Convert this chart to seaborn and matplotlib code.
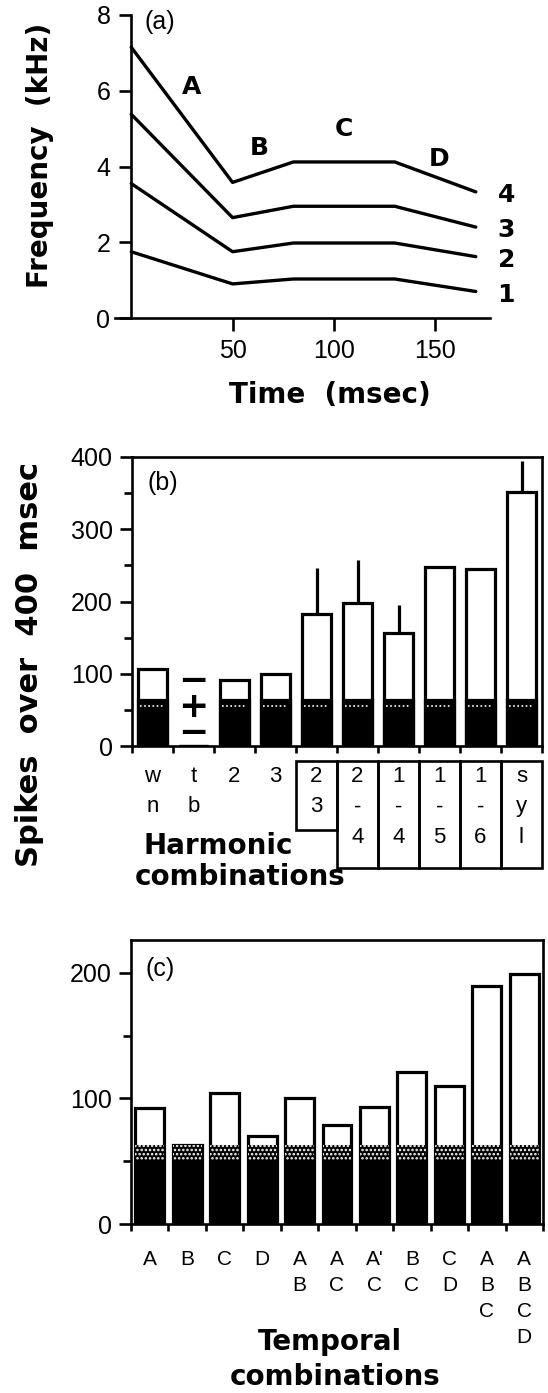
import numpy as np
import pandas as pd
import seaborn as sns
import matplotlib.pyplot as plt
from matplotlib.patches import Rectangle
from matplotlib.ticker import MultipleLocator

# (a) frequency contours of the four harmonics
time_ms = [0, 50, 80, 130, 170]
harmonic_1 = [1.75, 0.90, 1.03, 1.03, 0.70]
harmonic_2 = [3.55, 1.75, 1.98, 1.98, 1.62]
harmonic_3 = [5.38, 2.65, 2.95, 2.95, 2.40]
harmonic_4 = [7.15, 3.58, 4.12, 4.12, 3.33]
harmonic_names = ["1", "2", "3", "4"]
segment_names = ["A", "B", "C", "D"]
segment_time = [30, 63, 105, 152]
segment_freq = [6.1, 4.5, 5.0, 4.2]

# (b) harmonic combinations
harm_labels = ["w\nn", "t\nb", "2", "3", "2\n3", "2\n-\n4", "1\n-\n4", "1\n-\n5", "1\n-\n6", "s\ny\nl"]
harm_total = [107, 0, 92, 99, 183, 198, 157, 248, 245, 351]
harm_upper = [np.nan, np.nan, np.nan, np.nan, 247, 258, 195, np.nan, np.nan, 394]
harm_spont = [64, 0, 63, 63, 63, 63, 63, 63, 63, 63]
harm_spont_mean = [56, np.nan, 56, 56, 56, 56, 56, 56, 56, 56]
harm_boxed = [False, False, False, False, True, True, True, True, True, True]

# (c) temporal combinations
temp_labels = ["A", "B", "C", "D", "A\nB", "A\nC", "A'\nC", "B\nC", "C\nD", "A\nB\nC", "A\nB\nC\nD"]
temp_total = [92, 63, 104, 70, 100, 79, 93, 121, 110, 189, 199]
temp_spont = [63, 63, 63, 63, 63, 63, 63, 63, 63, 63, 63]
temp_spont_low = [51, 51, 51, 51, 51, 51, 51, 51, 51, 51, 51]

sns.set_style("ticks")
plt.rcParams['font.family'] = ['Liberation Sans', 'DejaVu Sans']
plt.rcParams['text.color'] = 'black'
plt.rcParams['axes.labelcolor'] = 'black'
plt.rcParams['axes.linewidth'] = 1.9
plt.rcParams['axes.edgecolor'] = 'black'
plt.rcParams['xtick.color'] = 'black'
plt.rcParams['ytick.color'] = 'black'
plt.rcParams['xtick.labelcolor'] = 'black'
plt.rcParams['ytick.labelcolor'] = 'black'
plt.rcParams['hatch.linewidth'] = 1.2

W, H = 548, 1393
fig = plt.figure(figsize=(W / 100, H / 100), dpi=100)
bold = dict(fontsize=20, fontweight='bold', family='DejaVu Sans', color='black')

# ---------------- (a)
ax_a = fig.add_axes([115 / W, 1 - 318 / H, 375 / W, 303 / H])
rows = []
for name, vals in zip(harmonic_names, [harmonic_1, harmonic_2, harmonic_3, harmonic_4]):
    for t, f in zip(time_ms, vals):
        rows.append({"time": t, "freq": f, "harmonic": name})
df_a = pd.DataFrame(rows)
sns.lineplot(data=df_a, x="time", y="freq", hue="harmonic", palette=["black"] * 4,
             estimator=None, sort=False, linewidth=2.4, legend=False, ax=ax_a)
ax_a.set_xlim(-8, 177)
ax_a.set_ylim(0, 8)
ax_a.spines['top'].set_visible(False)
ax_a.spines['right'].set_visible(False)
ax_a.spines['left'].set_position(('data', 0))
ax_a.set_xticks([50, 100, 150])
ax_a.set_yticks([0, 2, 4, 6, 8])
ax_a.tick_params(axis='both', length=9, width=1.9, labelsize=18, pad=6)
ax_a.set_xlabel("")
ax_a.set_ylabel("")
for name, vals in zip(harmonic_names, [harmonic_1, harmonic_2, harmonic_3, harmonic_4]):
    ax_a.text(time_ms[-1] + 15, vals[-1] - 0.08, name, ha='center', va='center',
              fontsize=18, fontweight='bold', family='DejaVu Sans')
for s, t, f in zip(segment_names, segment_time, segment_freq):
    ax_a.text(t, f, s, ha='center', va='center', fontsize=18, fontweight='bold',
              family='DejaVu Sans')
ax_a.text(0.08, 1.015, "(a)", transform=ax_a.transAxes, ha='left', va='top', fontsize=18)
fig.text(40 / W, 1 - 155 / H, "Frequency  (kHz)", rotation=90, ha='center', va='center', **bold)
fig.text(330 / W, 1 - 395 / H, "Time  (msec)", ha='center', va='center', **bold)


def put_rows(ax, labels, first_pt, step_pt, size):
    for i, lab in enumerate(labels):
        for r, part in enumerate(lab.split("\n")):
            ax.annotate(part, xy=(i, 0), xycoords=("data", "axes fraction"),
                        xytext=(0, -first_pt - r * step_pt), textcoords="offset points",
                        ha="center", va="center", fontsize=size, annotation_clip=False)


def frame_bars(ax, n):
    ax.set_xlim(-0.5, n - 0.5)
    ax.set_xticks(np.arange(-0.5, n, 1))
    ax.set_xticklabels([])
    ax.set_xlabel("")
    ax.set_ylabel("")
    ax.yaxis.set_minor_locator(MultipleLocator(50))
    ax.yaxis.set_major_locator(MultipleLocator(100))
    ax.tick_params(axis='y', which='major', length=9, width=1.9, labelsize=18, pad=5)
    ax.tick_params(axis='y', which='minor', length=6, width=1.9)
    ax.tick_params(axis='x', which='major', length=5, width=1.9)
    for sp in ax.spines.values():
        sp.set_visible(True)
        sp.set_linewidth(1.9)


# ---------------- (b)
ax_b = fig.add_axes([132 / W, 1 - 746 / H, 410 / W, 289 / H])
df_b = pd.DataFrame({"combo": harm_labels, "total": harm_total, "spont": harm_spont})
sns.barplot(data=df_b, x="combo", y="total", order=harm_labels, color="white",
            edgecolor="black", linewidth=2.3, width=0.7, saturation=1, errorbar=None, ax=ax_b)
sns.barplot(data=df_b, x="combo", y="spont", order=harm_labels, color="black",
            edgecolor="black", linewidth=2.3, width=0.7, saturation=1, errorbar=None, ax=ax_b)
idx_b = np.arange(len(harm_labels))
upper_err = np.array(harm_upper) - np.array(harm_total)
ax_b.errorbar(idx_b, harm_total, yerr=[np.zeros(len(idx_b)), upper_err], fmt='none',
              ecolor='black', elinewidth=2.3, capsize=0)
ax_b.hlines(harm_spont_mean, idx_b - 0.3, idx_b + 0.3, colors='white',
            linestyles=(0, (1, 1.5)), linewidth=1.2, zorder=5)
ax_b.set_ylim(0, 400)
frame_bars(ax_b, len(harm_labels))
# "+/-" sign in the tb column
ax_b.text(1, 54, "\u2212\n+\n\u2212", ha='center', va='center', fontsize=26,
          fontweight='bold', family='DejaVu Sans', linespacing=0.72)
ax_b.text(0.039, 0.952, "(b)", transform=ax_b.transAxes, ha='left', va='top', fontsize=18)
put_rows(ax_b, harm_labels, 21.6, 22.3, 16)
box_bottom_px = {1: 84, 2: 84, 3: 122}
for i, lab in enumerate(harm_labels):
    if harm_boxed[i]:
        bottom = -box_bottom_px[len(lab.split("\n"))] / 289
        top = -15 / 289
        ax_b.add_patch(Rectangle((i - 0.5, bottom), 1, top - bottom,
                                 transform=ax_b.get_xaxis_transform(), fill=False,
                                 edgecolor='black', linewidth=1.9, clip_on=False))
fig.text(218 / W, 1 - 846 / H, "Harmonic", ha='center', va='center', **bold)
fig.text(240 / W, 1 - 877 / H, "combinations", ha='center', va='center', **bold)
fig.text(30 / W, 1 - 665 / H, "Spikes  over  400  msec", rotation=90, ha='center', va='center',
         fontsize=22, fontweight='bold', family='DejaVu Sans', color='black')

# ---------------- (c)
ax_c = fig.add_axes([131 / W, 1 - 1224 / H, 412 / W, 284 / H])
df_c = pd.DataFrame({"combo": temp_labels, "total": temp_total,
                     "spont": temp_spont, "low": temp_spont_low})
sns.barplot(data=df_c, x="combo", y="total", order=temp_labels, color="white",
            edgecolor="black", linewidth=2.3, width=0.77, saturation=1, errorbar=None, ax=ax_c)
sns.barplot(data=df_c, x="combo", y="spont", order=temp_labels, color="black",
            edgecolor="white", hatch="....", linewidth=0, width=0.77, saturation=1,
            errorbar=None, ax=ax_c)
sns.barplot(data=df_c, x="combo", y="low", order=temp_labels, color="black",
            edgecolor="black", linewidth=1.0, width=0.77, saturation=1, errorbar=None, ax=ax_c)
ax_c.set_ylim(0, 226)
frame_bars(ax_c, len(temp_labels))
ax_c.text(0.034, 0.94, "(c)", transform=ax_c.transAxes, ha='left', va='top', fontsize=18)
put_rows(ax_c, temp_labels, 25.9, 18.7, 15)
fig.text(330 / W, 1 - 1342 / H, "Temporal", ha='center', va='center', **bold)
fig.text(335 / W, 1 - 1377 / H, "combinations", ha='center', va='center', **bold)

fig.savefig("out.png", dpi=100)
